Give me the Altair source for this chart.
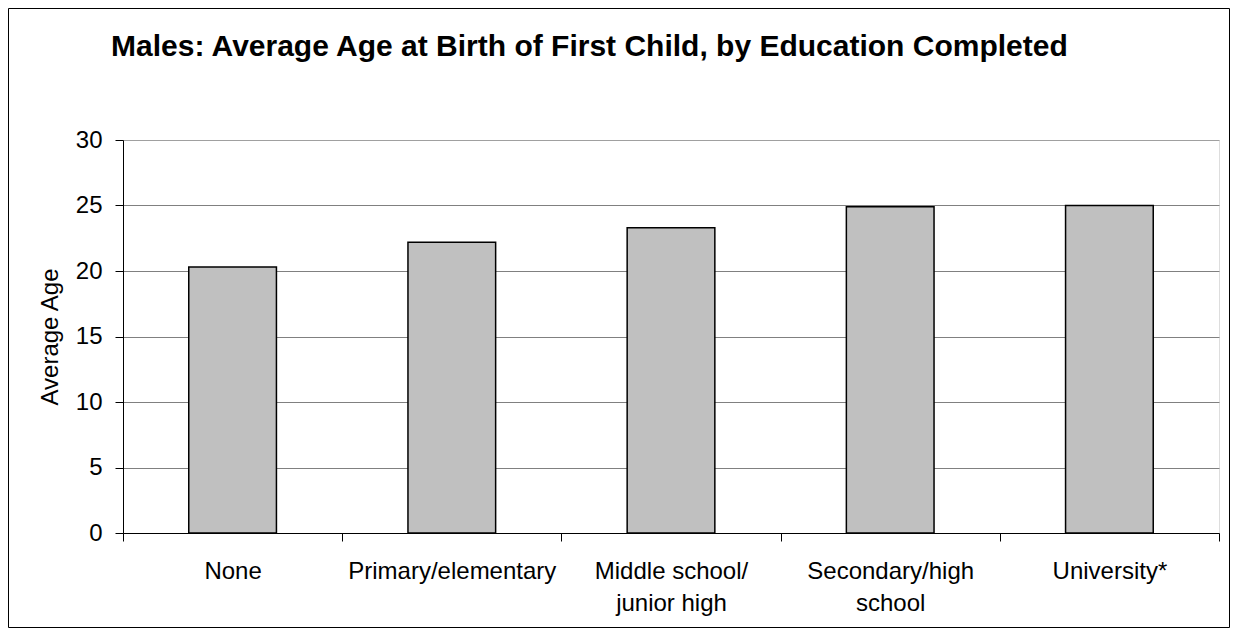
import altair as alt
import pandas as pd

# ---- data ----
categories = [
    "None",
    "Primary/elementary",
    "Middle school/|junior high",
    "Secondary/high|school",
    "University*",
]
ages = [20.3, 22.2, 23.3, 24.9, 25.0]
y_ticks = [0, 5, 10, 15, 20, 25, 30]
title_text = "Males: Average Age at Birth of First Child, by Education Completed"
y_title = "Average Age"

df = pd.DataFrame({"education": categories, "age": ages})

# ---- layout ----
W, H = 1096, 393
PAD_L, PAD_T, PAD_R, PAD_B = 115, 132, 11, 95
FONT = "Liberation Sans"

bars = alt.Chart(df).mark_bar(
    color="#C0C0C0",
    stroke="#000000",
    strokeWidth=1.5,
    width=alt.RelativeBandSize(0.4),
).encode(
    x=alt.X(
        "education:N",
        sort=categories,
        title=None,
        scale=alt.Scale(paddingInner=0, paddingOuter=0),
        axis=alt.Axis(
            labelAngle=0,
            labelExpr="split(datum.label, '|')",
            labelLimit=0,
            tickBand="extent",
            tickSize=8,
            labelPadding=18,
            labelFontSize=24,
            labelLineHeight=32,
            labelFont=FONT,
            labelColor="#000000",
            domainColor="#000000",
            tickColor="#000000",
            grid=False,
        ),
    ),
    y=alt.Y(
        "age:Q",
        scale=alt.Scale(domain=[0, 30], nice=False),
        axis=alt.Axis(
            values=y_ticks,
            title=y_title,
            titleFont=FONT,
            titleFontSize=24,
            titleFontWeight="normal",
            titleColor="#000000",
            titleX=-73,
            titleY=H / 2,
            titleAlign="center",
            titleBaseline="middle",
            labelFont=FONT,
            labelFontSize=24,
            labelColor="#000000",
            labelPadding=13,
            tickSize=8,
            tickColor="#000000",
            domainColor="#000000",
            grid=True,
            gridColor=alt.condition(
                "datum.value == 30", alt.value("#a0a0a0"), alt.value("#808080")
            ),
            gridWidth=1,
        ),
    ),
)

border = alt.Chart(pd.DataFrame({"k": [0]})).mark_rect(
    fillOpacity=0, stroke="#000000", strokeWidth=1
).encode(
    x=alt.value(-PAD_L + 0.5),
    x2=alt.value(W + PAD_R - 0.5),
    y=alt.value(-PAD_T + 0.5),
    y2=alt.value(H + PAD_B - 0.5),
)

chart = alt.layer(border, bars).properties(
    width=W,
    height=H,
    autosize=alt.AutoSizeParams(type="none"),
    padding={"left": PAD_L, "top": PAD_T, "right": PAD_R, "bottom": PAD_B},
    title=alt.TitleParams(
        text=title_text,
        anchor="start",
        frame="group",
        dx=-12,
        offset=-78,
        baseline="alphabetic",
        font=FONT,
        fontSize=30,
        fontWeight="bold",
        color="#000000",
    ),
).configure_view(
    stroke="#a0a0a0", strokeWidth=1
).configure(background="#ffffff")

chart.save("out.html", embed_options={"renderer": "svg", "actions": False})
